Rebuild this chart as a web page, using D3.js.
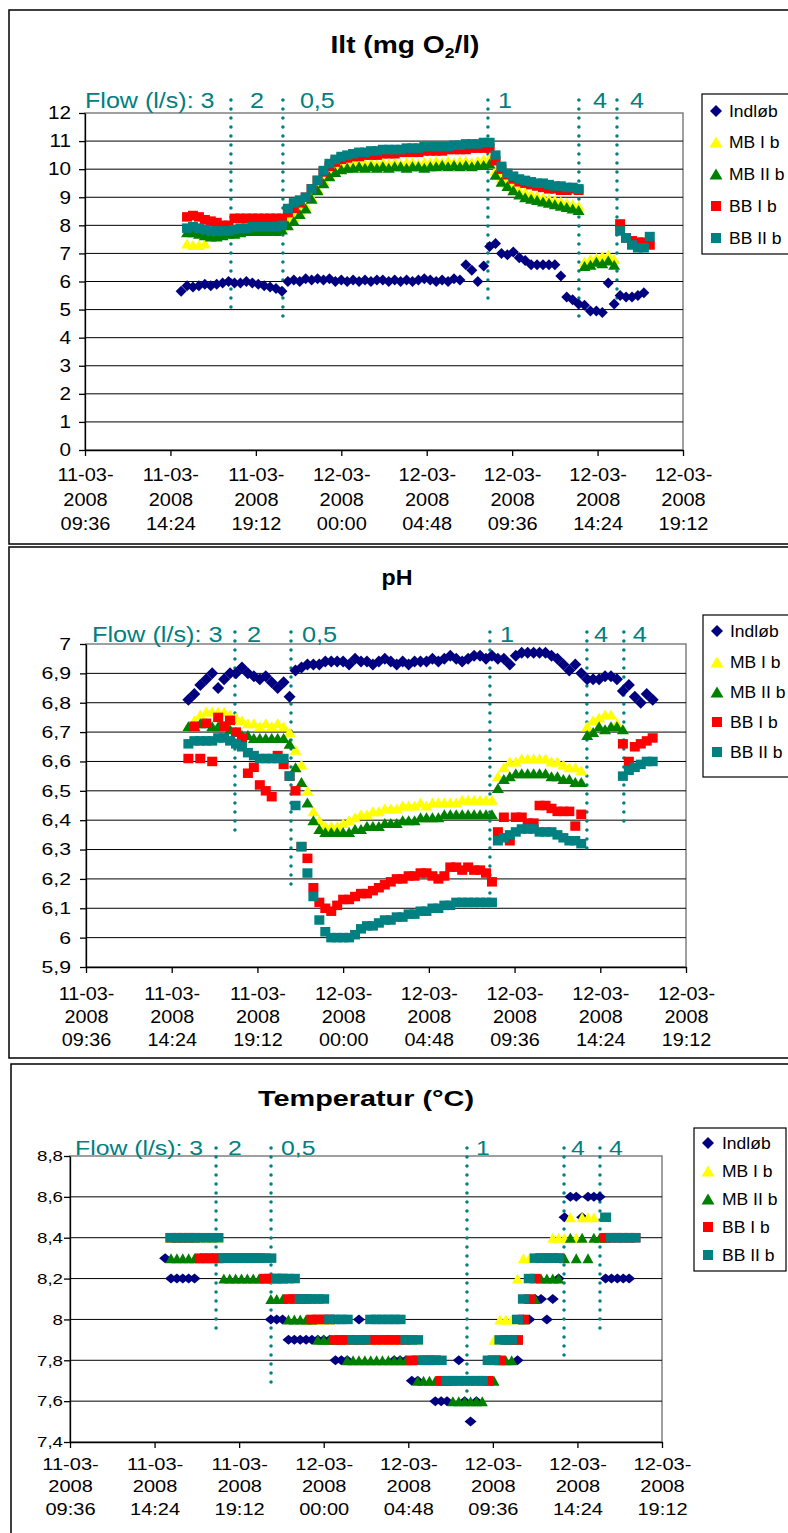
<!DOCTYPE html>
<html><head><meta charset="utf-8">
<script src="https://cdn.jsdelivr.net/npm/d3@7"></script>
<style>body{margin:0;background:#fff}svg{display:block}text{font-family:"Liberation Sans",Arial,sans-serif}</style>
</head><body><svg id="c" width="788" height="1533"></svg>
<script>
// ---------- DATA ----------
// sample times: hours since 11-03-2008 00:00, one sample every 20 minutes from 15:00
const sampleTimes = d3.range(81).map(i => 15 + i / 3);
const xTickHours = [9.6, 14.4, 19.2, 24, 28.8, 33.6, 38.4, 43.2];
const xTickLabels = [["11-03-","2008","09:36"],["11-03-","2008","14:24"],["11-03-","2008","19:12"],["12-03-","2008","00:00"],
  ["12-03-","2008","04:48"],["12-03-","2008","09:36"],["12-03-","2008","14:24"],["12-03-","2008","19:12"]];
const seriesNames = ["Indløb","MB I b","MB II b","BB I b","BB II b"];
const seriesColors = ["#000080","#FFFF00","#008000","#FF0000","#008080"];
const seriesShapes = ["diamond","triangle","triangle","square","square"];
const flowLabels = ["3","2","0,5","1","4","4"];

const iltTicks = [0,1,2,3,4,5,6,7,8,9,10,11,12];
const phTicks = [5.9,6,6.1,6.2,6.3,6.4,6.5,6.6,6.7,6.8,6.9,7];
const tempTicks = [7.4,7.6,7.8,8,8.2,8.4,8.6,8.8];

const iltFlowHours = [17.8, 20.72, 32.24, 37.35, 39.49];
const phFlowHours = [17.94, 21.08, 32.22, 37.65, 39.72];
const tempFlowHours = [17.89, 21.01, 32.13, 37.64, 39.68];

const iltIndlob = [5.65,5.85,5.8,5.85,5.9,5.85,5.9,5.95,6.0,5.95,
 5.95,6.0,5.95,5.9,5.85,5.8,5.75,5.65,6.0,6.05,
 6.0,6.1,6.05,6.1,6.05,6.1,6.0,6.05,6.0,6.05,
 6.0,6.05,6.0,6.05,6.05,6.0,6.05,6.0,6.05,6.0,
 6.05,6.1,6.05,6.0,6.05,6.0,6.1,6.05,6.6,6.4,
 6.0,6.55,7.25,7.35,7.0,6.95,7.05,6.85,6.75,6.6,
 6.6,6.6,6.6,6.6,6.2,5.45,5.35,5.2,5.15,4.95,
 4.95,4.9,5.95,5.2,5.5,5.45,5.45,5.5,5.6,null,
 null];
const iltMB1 = [null,7.35,7.3,7.3,7.35,7.7,8.1,7.8,7.8,7.85,
 7.9,7.95,7.95,7.95,7.9,7.95,7.9,7.95,8.15,8.3,
 8.5,8.7,9.0,9.3,9.6,9.85,10.0,10.1,10.15,10.2,
 10.25,10.2,10.25,10.2,10.25,10.2,10.25,10.2,10.25,10.25,
 10.2,10.25,10.25,10.3,10.25,10.3,10.25,10.3,10.3,10.25,
 10.3,10.35,10.4,9.95,9.7,9.5,9.35,9.25,9.2,9.1,
 9.05,9.0,8.95,8.9,8.85,8.8,8.75,8.7,6.7,6.8,
 6.85,6.9,6.95,6.8,null,null,null,null,null,null,
 null];
const iltMB2 = [null,7.75,7.75,7.7,7.65,7.6,7.6,7.65,7.7,7.7,
 7.75,7.8,7.8,7.8,7.8,7.8,7.8,7.85,8.0,8.15,
 8.4,8.6,8.95,9.25,9.5,9.75,9.9,10.0,10.05,10.05,
 10.1,10.05,10.1,10.05,10.1,10.05,10.1,10.1,10.05,10.1,
 10.1,10.05,10.1,10.1,10.15,10.1,10.15,10.1,10.15,10.1,
 10.15,10.15,10.2,9.8,9.55,9.4,9.25,9.1,9.0,8.95,
 8.9,8.85,8.8,8.75,8.7,8.65,8.6,8.55,6.55,6.6,
 6.7,6.65,6.75,6.6,null,null,null,null,null,null,
 null];
const iltBB1 = [null,8.3,8.35,8.3,8.2,8.15,8.1,8.0,8.0,8.25,
 8.25,8.25,8.25,8.25,8.25,8.25,8.25,8.25,8.45,8.6,
 8.8,9.0,9.3,9.6,9.9,10.1,10.25,10.35,10.4,10.45,
 10.45,10.5,10.5,10.5,10.55,10.55,10.55,10.6,10.6,10.6,
 10.6,10.65,10.65,10.65,10.65,10.7,10.7,10.7,10.7,10.75,
 10.75,10.75,10.75,10.3,10.0,9.8,9.65,9.55,9.5,9.45,
 9.4,9.35,9.3,9.3,9.25,9.25,9.3,9.25,null,null,
 null,null,null,null,8.05,7.55,7.45,7.4,7.4,7.3,
 null];
const iltBB2 = [null,7.9,7.95,7.9,7.85,7.8,7.8,7.8,7.8,7.85,
 7.9,7.9,7.95,7.95,7.95,7.95,7.95,8.0,8.6,8.8,
 8.9,9.0,9.3,9.6,9.95,10.2,10.35,10.45,10.5,10.55,
 10.6,10.6,10.65,10.65,10.7,10.7,10.7,10.7,10.75,10.75,
 10.75,10.8,10.8,10.8,10.8,10.8,10.85,10.85,10.9,10.9,
 10.9,10.95,10.95,10.5,10.1,9.85,9.75,9.65,9.6,9.55,
 9.5,9.5,9.45,9.4,9.4,9.35,9.35,9.3,null,null,
 null,null,null,null,7.8,7.55,7.3,7.2,7.2,7.6,
 null];

const phIndlob = [null,6.81,6.83,6.86,6.88,6.9,6.85,6.88,6.9,6.9,
 6.92,6.9,6.89,6.88,6.89,6.87,6.85,6.87,6.82,6.91,
 6.92,6.93,6.93,6.93,6.94,6.94,6.94,6.94,6.93,6.95,
 6.94,6.94,6.93,6.94,6.95,6.94,6.93,6.94,6.93,6.94,
 6.94,6.94,6.95,6.94,6.95,6.96,6.95,6.94,6.95,6.96,
 6.96,6.95,6.96,6.95,6.95,6.93,6.96,6.97,6.97,6.97,
 6.97,6.97,6.96,6.95,6.93,6.91,6.93,6.9,6.88,6.88,
 6.88,6.89,6.89,6.88,6.84,6.86,6.82,6.8,6.83,6.81,
 null];
const phMB1 = [null,6.72,6.74,6.76,6.77,6.77,6.77,6.77,6.76,6.75,
 6.74,6.73,6.73,6.72,6.73,6.72,6.73,6.72,6.7,6.64,
 6.59,6.5,6.43,6.4,6.38,6.38,6.38,6.39,6.4,6.41,
 6.42,6.42,6.43,6.43,6.44,6.44,6.44,6.45,6.45,6.45,
 6.46,6.45,6.46,6.46,6.46,6.46,6.46,6.47,6.47,6.47,
 6.47,6.47,6.47,6.55,6.58,6.6,6.6,6.61,6.61,6.61,
 6.61,6.61,6.6,6.6,6.59,6.58,6.58,6.57,6.72,6.74,
 6.75,6.76,6.76,6.73,null,null,null,null,null,null,
 null];
const phMB2 = [null,6.72,6.72,6.73,6.73,6.72,6.72,6.72,6.71,6.7,
 6.69,6.69,6.68,6.68,6.68,6.68,6.68,6.68,6.66,6.58,
 6.53,6.46,6.4,6.37,6.36,6.36,6.36,6.36,6.36,6.37,
 6.37,6.38,6.38,6.38,6.39,6.39,6.39,6.4,6.4,6.4,
 6.41,6.41,6.41,6.41,6.42,6.42,6.42,6.42,6.42,6.42,
 6.42,6.42,6.42,6.51,6.54,6.55,6.56,6.56,6.56,6.56,
 6.56,6.56,6.55,6.55,6.54,6.54,6.53,6.53,6.69,6.7,
 6.72,6.71,6.72,6.72,6.71,null,null,null,null,null,
 null];
const phBB1 = [null,6.61,6.72,6.61,6.73,6.6,6.75,6.72,6.74,6.7,
 6.68,6.56,6.58,6.52,6.5,6.48,6.62,6.59,6.55,6.5,
 6.31,6.27,6.17,6.12,6.1,6.09,6.11,6.13,6.13,6.14,
 6.15,6.15,6.16,6.17,6.18,6.19,6.2,6.2,6.21,6.21,
 6.22,6.22,6.21,6.2,6.21,6.24,6.24,6.23,6.24,6.23,
 6.23,6.22,6.19,6.36,6.41,6.33,6.41,6.41,6.39,6.39,
 6.45,6.45,6.44,6.43,6.43,6.43,6.38,6.42,null,null,
 null,null,null,null,6.66,6.6,6.65,6.66,6.67,6.68,
 null];
const phBB2 = [null,6.66,6.67,6.67,6.67,6.67,6.68,6.68,6.67,6.66,
 6.65,6.63,6.62,6.61,6.61,6.61,6.61,6.61,6.55,6.45,
 6.31,6.22,6.14,6.06,6.02,6.0,6.0,6.0,6.0,6.01,
 6.03,6.04,6.04,6.05,6.06,6.06,6.07,6.07,6.08,6.08,
 6.09,6.09,6.1,6.1,6.11,6.11,6.12,6.12,6.12,6.12,
 6.12,6.12,6.12,6.33,6.34,6.35,6.36,6.37,6.37,6.37,
 6.36,6.36,6.36,6.35,6.34,6.33,6.33,6.32,null,null,
 null,null,null,null,6.55,6.57,6.58,6.59,6.6,6.6,
 null];

const tempIndlob = [8.3,8.2,8.2,8.2,8.2,8.2,8.3,8.3,8.3,8.3,
 8.3,8.3,8.3,8.3,8.3,8.3,8.3,8.3,8.0,8.0,
 8.0,7.9,7.9,7.9,7.9,7.9,7.9,7.9,7.9,7.8,
 7.8,7.8,7.9,8.0,7.9,7.9,7.9,7.9,7.9,7.8,
 7.8,7.8,7.7,7.7,7.8,7.8,7.6,7.6,7.6,7.7,
 7.8,7.6,7.5,7.6,7.7,7.8,7.8,7.8,7.9,7.9,
 7.8,8.0,8.0,8.1,8.1,8.0,8.1,8.2,8.5,8.6,
 8.6,8.5,8.6,8.6,8.6,8.2,8.2,8.2,8.2,8.2,
 null];
const tempMB1 = [null,8.4,8.4,8.4,8.4,8.4,8.4,8.4,8.4,8.4,
 8.3,8.3,8.3,8.3,8.3,8.3,8.3,8.3,8.2,8.2,
 8.2,8.1,8.1,8.1,8.0,8.0,8.0,8.0,8.0,7.9,
 7.9,7.9,7.9,7.9,7.9,7.9,7.9,7.9,7.9,7.9,
 7.9,7.9,7.9,7.9,7.8,7.8,7.8,7.8,7.7,7.7,
 7.7,7.7,7.7,7.7,7.7,7.8,7.9,8.0,8.0,8.0,
 8.2,8.3,8.3,8.3,8.3,8.3,8.4,8.4,8.4,8.5,
 8.4,8.5,8.5,8.5,null,null,null,null,null,null,
 null];
const tempMB2 = [null,8.3,8.3,8.3,8.3,8.3,8.3,8.3,8.3,8.3,
 8.2,8.2,8.2,8.2,8.2,8.2,8.2,8.2,8.1,8.1,
 8.1,8.0,8.0,8.0,8.0,8.0,7.9,7.9,7.9,7.9,
 7.9,7.8,7.8,7.8,7.8,7.8,7.8,7.8,7.8,7.8,
 7.8,7.8,7.8,7.7,7.7,7.7,7.7,7.7,7.7,7.6,
 7.6,7.6,7.6,7.6,7.6,7.7,7.7,7.8,7.8,7.8,
 7.9,8.0,8.1,8.1,8.2,8.2,8.2,8.2,8.3,8.4,
 8.3,8.4,8.3,8.4,8.4,8.4,null,null,null,null,
 null];
const tempBB1 = [null,8.4,8.4,8.4,8.4,8.4,8.3,8.3,8.3,8.3,
 8.3,8.3,8.3,8.3,8.3,8.3,8.3,8.2,8.2,8.2,
 8.2,8.1,8.1,8.1,8.1,8.0,8.0,8.0,8.0,7.9,
 7.9,7.9,7.9,7.9,7.9,7.9,7.9,7.9,7.9,7.9,
 7.9,7.9,7.8,7.8,7.8,7.8,7.8,7.7,7.7,7.7,
 7.7,7.7,7.7,7.7,7.7,7.7,7.8,7.8,7.9,7.9,
 7.9,8.0,8.1,8.2,8.3,8.3,8.3,8.3,null,null,
 null,null,null,null,null,8.4,8.4,8.4,8.4,8.4,
 8.4];
const tempBB2 = [null,8.4,8.4,8.4,8.4,8.4,8.4,8.4,8.4,8.4,
 8.3,8.3,8.3,8.3,8.3,8.3,8.3,8.3,8.3,8.2,
 8.2,8.2,8.2,8.1,8.1,8.1,8.1,8.1,8.0,8.0,
 8.0,8.0,7.9,7.9,7.9,8.0,8.0,8.0,8.0,8.0,
 8.0,7.9,7.9,7.9,7.8,7.8,7.8,7.8,7.7,7.7,
 7.7,7.7,7.7,7.7,7.7,7.8,7.8,7.9,7.9,7.9,
 8.0,8.1,8.2,8.3,8.3,8.3,8.3,8.3,null,null,
 null,null,null,null,null,8.5,8.4,8.4,8.4,8.4,
 8.4];

// ---------- LAYOUT ----------
const fmtComma = v => String(+v.toFixed(1)).replace('.', ',');
const panels = [
 { titleParts: [["Ilt (mg O", false], ["2", true], ["/l)", false]], titleX: 405, titleY: 53, titleSize: 23, titleLen: 149,
   values: [iltIndlob, iltMB1, iltMB2, iltBB1, iltBB2], yDomain: [0, 12], yTicks: iltTicks, flowHours: iltFlowHours,
   frame: {x: 9, y: 10, w: 800, h: 534}, plot: {x0: 85, x1: 683, y0: 113, y1: 450},
   yFont: 18, ySx: 1.15, yLabelRight: 71, xFont: 19, xSx: 1.05, xRows: [481, 506, 530],
   flowY: 108, flowX: 85, flowFont: 22, flowSx: 1.14, flowTop: 100, flowBottoms: [316, 317, 302, 317, 307], flowDx: [19, 17, 10, 14, 13],
   legend: {x: 702, y: 94, w: 100, h: 160, rows: [111, 142, 174, 206, 238], mx: 716, tx: 729},
   marker: {d: 5.5, dy: 5.5, sq: 10, sqh: 9.5, tw: 12, th: 10} },
 { titleParts: [["pH", false]], titleX: 397, titleY: 585, titleSize: 22, titleLen: 31,
   values: [phIndlob, phMB1, phMB2, phBB1, phBB2], yDomain: [5.9, 7], yTicks: phTicks, flowHours: phFlowHours,
   frame: {x: 9, y: 547, w: 800, h: 511}, plot: {x0: 86, x1: 686, y0: 644, y1: 967},
   yFont: 17, ySx: 1.25, yLabelRight: 71, xFont: 18, xSx: 1.1, xRows: [1000, 1023, 1046],
   flowY: 642, flowX: 92, flowFont: 22, flowSx: 1.15, flowTop: 632, flowBottoms: [838, 885, 905, 857, 825], flowDx: [12, 11, 10, 7, 9],
   legend: {x: 703, y: 615, w: 100, h: 162, rows: [631, 662, 692, 722, 752], mx: 717, tx: 730},
   marker: {d: 6, dy: 6, sq: 10, sqh: 9.5, tw: 12, th: 10} },
 { titleParts: [["Temperatur (°C)", false]], titleX: 366, titleY: 1106, titleSize: 22, titleLen: 216,
   values: [tempIndlob, tempMB1, tempMB2, tempBB1, tempBB2], yDomain: [7.4, 8.8], yTicks: tempTicks, flowHours: tempFlowHours,
   frame: {x: 11, y: 1064, w: 800, h: 480}, plot: {x0: 70, x1: 662, y0: 1156, y1: 1442},
   yFont: 15, ySx: 1.25, yLabelRight: 63, xFont: 16, xSx: 1.25, xRows: [1470, 1492, 1515],
   flowY: 1155, flowX: 75, flowFont: 21, flowSx: 1.18, flowTop: 1148, flowBottoms: [1332, 1387, 1400, 1359, 1329], flowDx: [12, 10, 9, 7, 9],
   legend: {x: 694, y: 1128, w: 92, h: 143, rows: [1143, 1171, 1199, 1227, 1255], mx: 708, tx: 722},
   marker: {d: 6, dy: 5, sq: 11, sqh: 9.5, tw: 11, th: 10} }
];

function symPath(shape, m) {
  if (shape === "diamond") return `M0,${-m.dy}L${m.d},0L0,${m.dy}L${-m.d},0Z`;
  if (shape === "triangle") return `M0,${-m.th/2}L${m.tw/2},${m.th/2}L${-m.tw/2},${m.th/2}Z`;
  return `M${-m.sq/2},${-m.sqh/2}h${m.sq}v${m.sqh}h${-m.sq}Z`;
}
function stext(g, x, y, str, size, sx, anchor, fill, weight) {
  return g.append("text").attr("transform", `translate(${x},${y}) scale(${sx},1)`)
    .attr("text-anchor", anchor).attr("font-size", size).attr("fill", fill || "#000")
    .attr("font-weight", weight || "normal").text(str);
}

const svg = d3.select("#c");
svg.append("rect").attr("width", 788).attr("height", 1533).attr("fill", "#fff");

panels.forEach(p => {
  const g = svg.append("g");
  g.append("rect").attr("x", p.frame.x).attr("y", p.frame.y).attr("width", p.frame.w).attr("height", p.frame.h)
    .attr("fill", "none").attr("stroke", "#000").attr("stroke-width", 1.5);

  const x = d3.scaleLinear().domain([xTickHours[0], xTickHours[xTickHours.length - 1]]).range([p.plot.x0, p.plot.x1]);
  const y = d3.scaleLinear().domain(p.yDomain).range([p.plot.y1, p.plot.y0]);

  // title
  const tt = g.append("text").attr("x", p.titleX).attr("y", p.titleY).attr("text-anchor", "middle")
    .attr("font-size", p.titleSize).attr("font-weight", "bold").attr("fill", "#000")
    .attr("textLength", p.titleLen).attr("lengthAdjust", "spacingAndGlyphs");
  p.titleParts.forEach(([s, sub]) => {
    const ts = tt.append("tspan").text(s);
    if (sub) ts.attr("font-size", p.titleSize * 0.62).attr("dy", 5);
    else if (tt.selectAll("tspan").size() > 1) ts.attr("dy", -5);
  });

  // plot frame + gridlines
  g.append("rect").attr("x", p.plot.x0).attr("y", p.plot.y0).attr("width", p.plot.x1 - p.plot.x0)
    .attr("height", p.plot.y1 - p.plot.y0).attr("fill", "none").attr("stroke", "#808080").attr("stroke-width", 1.5);
  g.append("g").selectAll("line").data(p.yTicks.slice(1, -1)).join("line")
    .attr("x1", p.plot.x0).attr("x2", p.plot.x1).attr("y1", d => y(d)).attr("y2", d => y(d))
    .attr("stroke", "#000").attr("stroke-width", 1);

  // y axis
  const pad = (p.plot.x0 - p.yLabelRight) / p.ySx - 6;
  const ya = g.append("g").attr("transform", `translate(${p.plot.x0},0)`)
    .call(d3.axisLeft(y).tickValues(p.yTicks).tickFormat(fmtComma).tickSize(6).tickSizeOuter(0).tickPadding(pad));
  ya.selectAll("text").attr("font-size", p.yFont).attr("font-family", '"Liberation Sans",Arial,sans-serif')
    .attr("fill", "#000").attr("transform", `scale(${p.ySx},1)`);
  ya.selectAll("path,line").attr("stroke", "#000").attr("stroke-width", 1.3);

  // x axis
  const xa = g.append("g").attr("transform", `translate(0,${p.plot.y1})`)
    .call(d3.axisBottom(x).tickValues(xTickHours).tickFormat("").tickSize(6).tickSizeOuter(0));
  xa.selectAll("path,line").attr("stroke", "#000").attr("stroke-width", 1.3);
  xa.selectAll(".tick text").remove();
  xa.selectAll(".tick").each(function(d, i) {
    const t = d3.select(this);
    xTickLabels[i].forEach((line, k) => {
      stext(t, 0, p.xRows[k] - p.plot.y1, line, p.xFont, p.xSx, "middle");
    });
  });

  // flow annotations
  stext(g, p.flowX, p.flowY, "Flow (l/s): " + flowLabels[0], p.flowFont, p.flowSx, "start", "#008080");
  p.flowHours.forEach((h, k) => {
    const lx = x(h);
    g.append("line").attr("x1", lx).attr("x2", lx).attr("y1", p.flowTop).attr("y2", p.flowBottoms[k])
      .attr("stroke", "#008080").attr("stroke-width", 3.5).attr("stroke-linecap", "round").attr("stroke-dasharray", "0 9");
    stext(g, lx + p.flowDx[k], p.flowY, flowLabels[k + 1], p.flowFont, p.flowSx, "start", "#008080");
  });

  // series markers
  p.values.forEach((vals, si) => {
    const pts = sampleTimes.map((t, i) => [t, vals[i]]).filter(d => d[1] != null);
    g.append("g").selectAll("path").data(pts).join("path")
      .attr("d", symPath(seriesShapes[si], p.marker))
      .attr("transform", d => `translate(${x(d[0])},${y(d[1])})`)
      .attr("fill", seriesColors[si]);
  });

  // legend
  const L = p.legend;
  g.append("rect").attr("x", L.x).attr("y", L.y).attr("width", L.w).attr("height", L.h)
    .attr("fill", "#fff").attr("stroke", "#000").attr("stroke-width", 1.2);
  const lm = {d: 6, dy: 6, sq: 10, sqh: 10, tw: 13, th: 11};
  seriesNames.forEach((n, si) => {
    g.append("path").attr("d", symPath(seriesShapes[si], lm)).attr("transform", `translate(${L.mx},${L.rows[si]})`)
      .attr("fill", seriesColors[si]);
    stext(g, L.tx, L.rows[si] + 6, n, 17, 1.03, "start");
  });
});
</script></body></html>
